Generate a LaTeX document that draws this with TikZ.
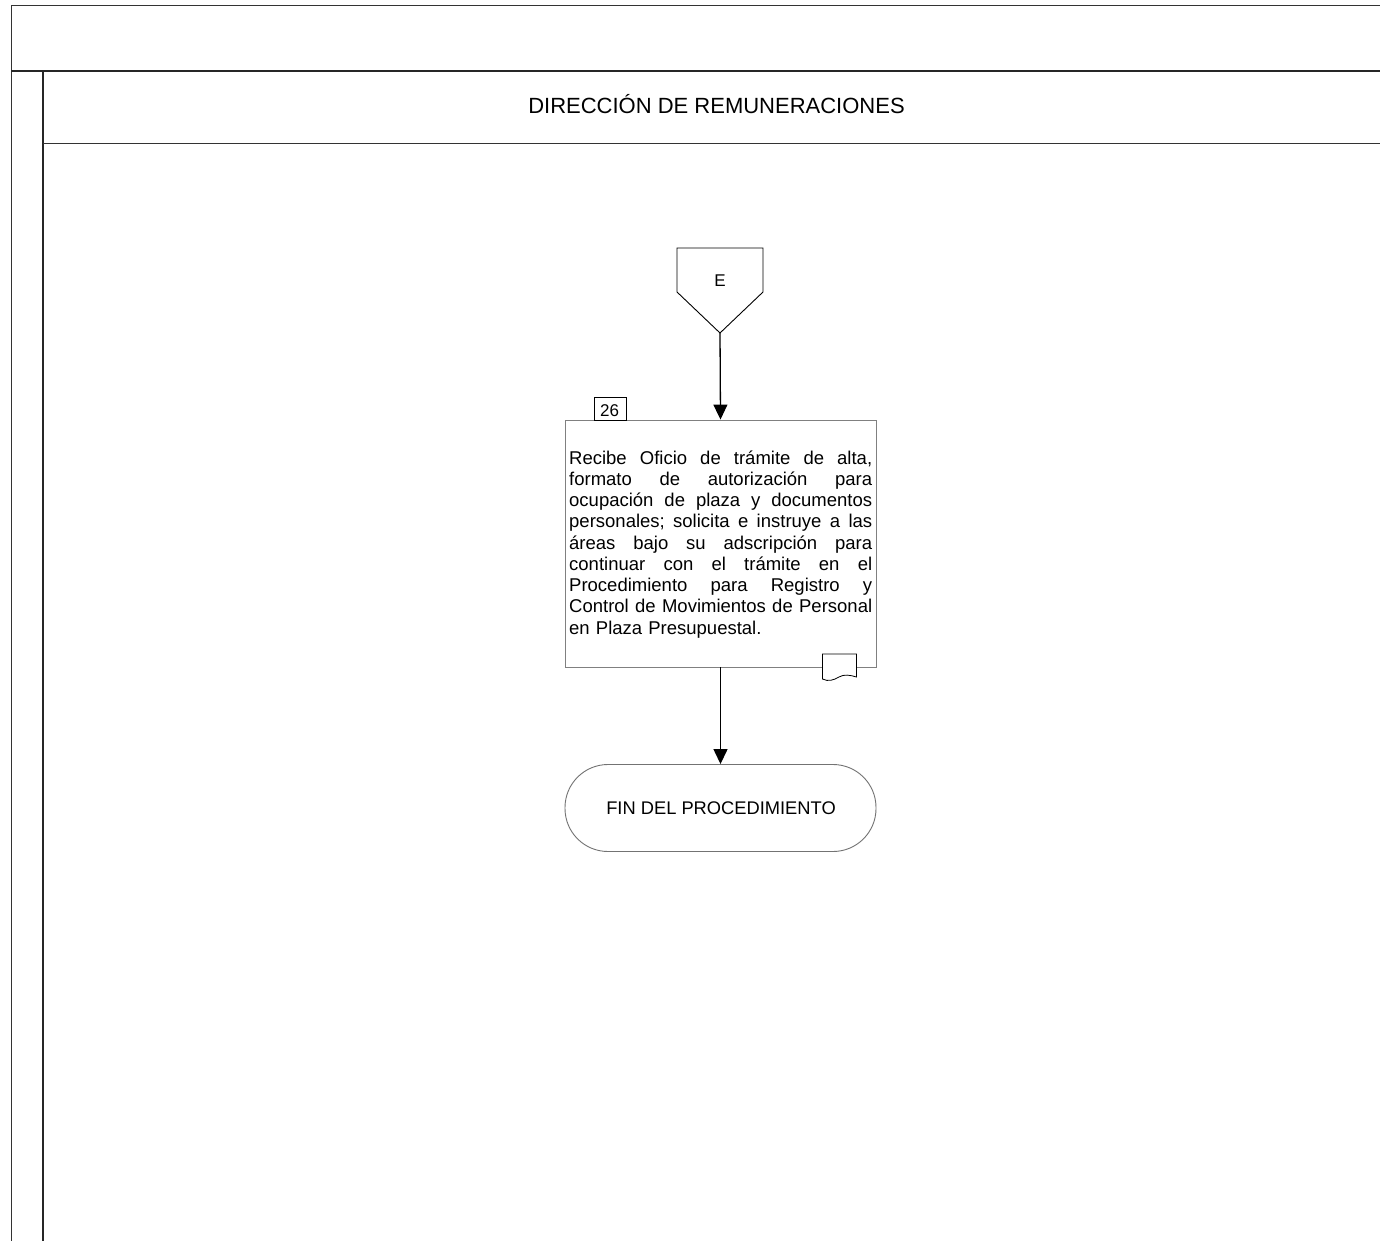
\documentclass[tikz,border=0pt]{standalone}
\usepackage{fontspec}
\setmainfont{Liberation Sans}
\usetikzlibrary{arrows.meta}
\setlength{\parindent}{0pt}
% one justified line: words spread across the full text width
\newcommand{\jline}[1]{\leavevmode\hbox to 303pt{#1}}
\newcommand{\gap}{\hskip 5pt plus 1fill\relax}
\begin{document}
\begin{tikzpicture}[x=1pt,y=-1pt,
  frame/.style={line width=1.4pt,draw=black!85},
  thinframe/.style={line width=1pt,draw=black!80},
  actbox/.style={draw=black!50,line width=0.9pt,fill=white,minimum width=311pt,minimum height=247pt,inner sep=0pt},
  numbox/.style={draw=black,line width=0.8pt,fill=white,minimum width=32pt,minimum height=23pt,inner sep=0pt},
  endbox/.style={draw=black!55,line width=0.9pt,rounded corners=43pt,minimum width=311pt,minimum height=87pt,inner sep=0pt},
  arr/.style={line width=1.3pt,-{Triangle[width=14pt,length=15pt]}},
  lbl/.style={inner sep=0pt,font=\fontsize{18.3}{21}\selectfont}
]
\useasboundingbox (0,0) rectangle (1380,1241);
\fill[white] (0,0) rectangle (1380,1241);

% swimlane frame
\draw[thinframe] (1380,6) -- (11,6) -- (11,1241);
\draw[frame] (11,71) -- (1380,71);
\draw[frame] (43,71) -- (43,1241);
\draw[thinframe] (43,144) -- (1380,144);
\node[lbl,anchor=base,font=\fontsize{22}{26}\selectfont] (lane) at (716.5,114) {DIRECCIÓN DE REMUNERACIONES};

% off-page connector E
\draw[line width=0.9pt,fill=white] (677,248) -- (763,248) -- (763,292) -- (720,333) -- (677,292) -- cycle;
\node[lbl,anchor=base,font=\fontsize{17}{20}\selectfont] (conE) at (720,286) {E};
\coordinate (Etip) at (720,333);

% activity 26
\node[actbox] (act) at (720.5,543.5) {};
\node[lbl,anchor=base west,text width=303pt,font=\fontsize{18.5}{21.25}\selectfont] (acttext) at (569,464) {%
\jline{Recibe\gap Oficio\gap de\gap trámite\gap de\gap alta,}\\
\jline{formato\gap de\gap autorización\gap para}\\
\jline{ocupación\gap de\gap plaza\gap y\gap documentos}\\
\jline{personales;\gap solicita\gap e\gap instruye\gap a\gap las}\\
\jline{áreas\gap bajo\gap su\gap adscripción\gap para}\\
\jline{continuar\gap con\gap el\gap trámite\gap en\gap el}\\
\jline{Procedimiento\gap para\gap Registro\gap y}\\
\jline{Control\gap de\gap Movimientos\gap de\gap Personal}\\
en Plaza Presupuestal.};
\node[numbox,anchor=south west] (num) at (593.5,420.5) {};
\node[lbl,anchor=base,font=\fontsize{17}{20}\selectfont] (numtext) at (609.5,416) {26};

% document symbol on the activity box
\draw[line width=0.8pt,fill=white] (822.5,654) -- (856.5,654) -- (856.5,677)
  .. controls (850,675) and (844,674) .. (839,677)
  .. controls (834,680) and (828,682) .. (822.5,679) -- cycle;

% end of procedure
\node[endbox] (fin) at (720.5,808) {};
\node[lbl,anchor=base] (fintext) at (721,814) {FIN DEL PROCEDIMIENTO};

% connectors
\draw[arr] (Etip) -- (act.north);
\draw[arr] (act.south) -- (fin.north);
\end{tikzpicture}
\end{document}
